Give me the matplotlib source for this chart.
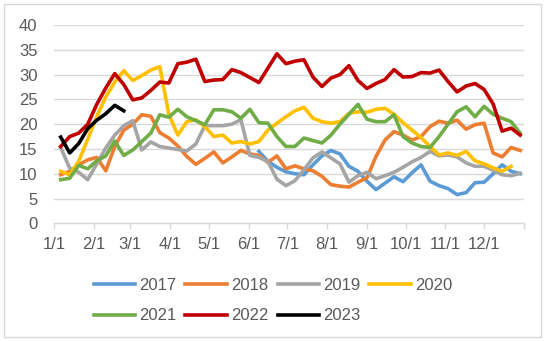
import numpy as np
import pandas as pd
import matplotlib
matplotlib.use("Agg")
import matplotlib.pyplot as plt
from matplotlib.patches import Rectangle

plt.rcParams['font.family'] = ['Liberation Sans', 'DejaVu Sans']

# Weekly readings, first week of January onward
weeks = pd.date_range('2021-01-06', periods=52, freq='7D')

start_2017 = 22  # 2017 series begins in June
v2017 = [14.5, 12.5, 11.3, 10.4, 10.0, 9.8, 11.8, 13.6, 14.7, 14.0, 11.5, 10.5, 8.5, 6.8, 8.1,
         9.4, 8.4, 10.2, 11.8, 8.5, 7.6, 7.0, 5.8, 6.2, 8.2, 8.3, 10.0, 11.8, 10.5, 10.0]
v2018 = [9.8, 10.5, 11.8, 12.8, 13.3, 10.6, 15.5, 18.8, 20.0, 21.9, 21.6, 18.3, 17.2, 15.6, 13.5,
         11.9, 13.1, 14.4, 12.2, 13.4, 14.7, 14.0, 13.7, 12.3, 13.6, 11.0, 11.6, 11.0, 10.6, 9.5,
         7.8, 7.5, 7.3, 8.3, 9.2, 13.5, 16.8, 18.5, 17.8, 16.8, 17.5, 19.5, 20.6, 20.2, 20.8, 19.0,
         19.9, 20.2, 14.2, 13.4, 15.3, 14.7]
v2019 = [15.3, 11.1, 10.3, 8.8, 12.0, 15.2, 17.8, 19.7, 20.7, 14.8, 16.4, 15.5, 15.2, 14.9, 14.6,
         16.0, 19.7, 19.7, 19.7, 20.0, 20.9, 13.7, 13.3, 12.5, 8.9, 7.6, 8.6, 10.8, 13.2, 14.4,
         13.2, 12.0, 8.3, 9.6, 10.3, 9.0, 9.6, 10.3, 11.3, 12.4, 13.3, 14.5, 13.6, 13.8, 13.4, 12.2,
         11.5, 11.5, 10.7, 9.8, 9.6, 10.1]
v2020 = [10.5, 9.8, 12.5, 17.0, 21.5, 25.5, 28.5, 30.8, 28.8, 29.8, 30.9, 31.6, 22.0, 17.8, 20.5,
         20.9, 19.5, 17.5, 17.8, 16.2, 16.5, 16.0, 16.5, 18.8, 20.2, 21.5, 22.7, 23.4, 21.2, 20.5,
         20.2, 20.5, 22.2, 22.5, 22.4, 23.0, 23.2, 22.0, 20.3, 18.8, 17.3, 15.5, 13.8, 14.2, 13.7,
         14.5, 12.6, 12.0, 11.2, 10.5, 11.5]
v2021 = [8.8, 9.1, 11.7, 11.0, 12.6, 13.6, 16.6, 13.7, 14.8, 16.5, 18.2, 21.9, 21.4, 23.0, 21.5,
         20.7, 19.9, 22.9, 22.9, 22.5, 21.2, 23.0, 20.3, 20.2, 17.5, 15.5, 15.5, 17.2, 16.7, 16.2,
         17.8, 20.0, 22.0, 24.0, 21.0, 20.5, 20.5, 21.9, 17.5, 16.2, 15.5, 15.3, 17.5, 20.0, 22.5,
         23.5, 21.5, 23.6, 22.0, 21.2, 20.5, 18.2]
v2022 = [15.5, 17.5, 18.2, 20.0, 24.0, 27.3, 30.2, 28.0, 24.9, 25.3, 26.8, 28.5, 28.3, 32.2, 32.5,
         33.1, 28.6, 28.9, 29.0, 31.0, 30.4, 29.4, 28.4, 31.3, 34.2, 32.2, 32.7, 33.0, 29.5, 27.6,
         29.3, 30.0, 31.8, 28.8, 27.2, 28.2, 29.0, 31.0, 29.5, 29.6, 30.4, 30.3, 30.9, 28.6, 26.5,
         27.7, 28.2, 27.0, 24.1, 18.6, 19.2, 17.8]
v2023 = [17.4, 14.2, 16.1, 19.1, 20.8, 22.1, 23.8, 22.7]

month_starts = pd.date_range('2021-01-01', periods=13, freq='MS')
month_labels = ['1/1', '2/1', '3/1', '4/1', '5/1', '6/1', '7/1', '8/1', '9/1', '10/1', '11/1', '12/1', '']

series = [
    ('2017', weeks[start_2017:start_2017 + len(v2017)], v2017, '#5B9BD5'),
    ('2018', weeks[:len(v2018)], v2018, '#ED7D31'),
    ('2019', weeks[:len(v2019)], v2019, '#A5A5A5'),
    ('2020', weeks[:len(v2020)], v2020, '#FFC000'),
    ('2021', weeks[:len(v2021)], v2021, '#70AD47'),
    ('2022', weeks[:len(v2022)], v2022, '#C00000'),
    ('2023', weeks[:len(v2023)], v2023, '#000000'),
]

fig = plt.figure(figsize=(5.5, 3.41), dpi=100)
ax = fig.add_axes([0.0987, 0.345, 0.854, 0.5817])

lines = {}
for name, x, y, c in series:
    lines[name], = ax.plot(x, y, color=c, lw=2.6, label=name, solid_joinstyle='round')

ax.set_ylim(0, 40)
ax.set_yticks(range(0, 41, 5))
ax.set_xlim(month_starts[0], month_starts[-1])
ax.set_xticks(month_starts)
ax.set_xticklabels(month_labels)

ax.grid(axis='y', color='#D9D9D9', lw=1)
ax.set_axisbelow(True)
for s in ['top', 'right', 'left']:
    ax.spines[s].set_visible(False)
ax.spines['bottom'].set_color('#D9D9D9')
ax.spines['bottom'].set_linewidth(1)
ax.tick_params(axis='y', length=0, pad=12, labelsize=12, labelcolor='#595959')
ax.tick_params(axis='x', length=4, width=1, color='#D9D9D9', pad=6, labelsize=12, labelcolor='#595959')

# legend rows: 2017-2020 on top, 2021-2023 below (matplotlib fills by column)
order = ['2017', '2021', '2018', '2022', '2019', '2023', '2020']
fig.legend([lines[k] for k in order], order, loc='center', bbox_to_anchor=(0.496, 0.119),
           ncol=4, frameon=False, fontsize=12, labelcolor='#595959',
           handlelength=2.5, handletextpad=0.22, columnspacing=0.56, labelspacing=0.95,
           borderpad=0)

fig.patches.append(Rectangle((4 / 550, 4 / 341), 537 / 550, 333 / 341, transform=fig.transFigure,
                             fill=False, edgecolor='#D9D9D9', lw=1))

fig.savefig('out.png', dpi=100)
